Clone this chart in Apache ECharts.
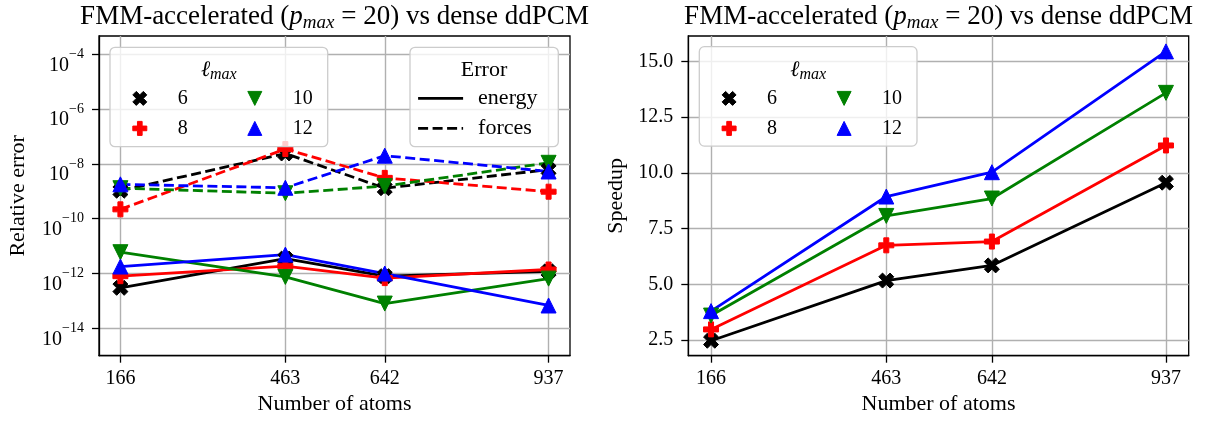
<!DOCTYPE html>
<html>
<head>
<meta charset="utf-8">
<script src="https://cdn.jsdelivr.net/npm/echarts@6/dist/echarts.min.js"></script>
<style>
  html, body { margin: 0; padding: 0; background: #fff; }
  #chart { width: 1208px; height: 423px; }
</style>
</head>
<body>
<div id="chart"></div>
<script>
// atom counts on the x axis
var atoms = [166, 463, 642, 937];
var lmaxNames = ['6', '8', '10', '12'];

// relative error of the energy, per l_max
var energy6 = [3.0e-13, 3.5e-12, 8.0e-13, 1.2e-12];
var energy8 = [8.0e-13, 1.85e-12, 6.8e-13, 1.4e-12];
var energy10 = [6.0e-12, 7.5e-13, 8.0e-14, 6.5e-13];
var energy12 = [1.8e-12, 4.9e-12, 1.0e-12, 6.8e-14];

// relative error of the forces, per l_max
var forces6 = [1.05e-9, 2.4e-8, 1.3e-9, 6.2e-9];
var forces8 = [2.2e-10, 3.5e-8, 3.1e-9, 9.7e-10];
var forces10 = [1.3e-9, 8.5e-10, 1.55e-9, 1.1e-8];
var forces12 = [1.8e-9, 1.35e-9, 2.0e-8, 5.3e-9];

// speedup, per l_max
var speedup6 = [2.47, 5.17, 5.85, 9.56];
var speedup8 = [2.98, 6.75, 6.92, 11.23];
var speedup10 = [3.6, 8.07, 8.85, 13.59];
var speedup12 = [3.8, 8.94, 10.03, 15.45];

// tick labels
var errorTicks = [-14, -12, -10, -8, -6, -4];   // exponents of 10
var speedupTicks = [2.5, 5, 7.5, 10, 12.5, 15];

var FONT = 'Liberation Serif';
var colors = ['#000000', '#ff0000', '#008000', '#0000ff'];
var X_PATH = 'path://M424,0L566,141L424,283L566,424L424,566L283,424L141,566L0,424L141,283L0,141L141,0L283,141Z';
var P_PATH = 'path://M2,0L4,0L4,2L6,2L6,4L4,4L4,6L2,6L2,4L0,4L0,2L2,2Z';
var DOWN_PATH = 'path://M0,0L2,0L1,2Z';
var UP_PATH = 'path://M1,0L2,2L0,2Z';
var symbols = [X_PATH, P_PATH, DOWN_PATH, UP_PATH];
var DASH = [10, 4.5];

var energy = [energy6, energy8, energy10, energy12];
var forces = [forces6, forces8, forces10, forces12];
var speedup = [speedup6, speedup8, speedup10, speedup12];

function pairs(vals, log) {
    return atoms.map(function (a, i) {
        return [a, log ? Math.log10(vals[i]) : vals[i]];
    });
}

function lineSeries(name, idx, data, axis, dashed) {
    return {
        name: name,
        type: 'line',
        xAxisIndex: axis,
        yAxisIndex: axis,
        data: data,
        symbol: symbols[idx],
        symbolSize: 15,
        showSymbol: true,
        animation: false,
        silent: true,
        lineStyle: { color: colors[idx], width: 2.8, type: dashed ? DASH : 'solid' },
        itemStyle: { color: colors[idx], borderColor: colors[idx], borderWidth: 1 }
    };
}

var series = [];
for (var i = 0; i < 4; i++) {
    series.push(lineSeries(lmaxNames[i], i, pairs(energy[i], true), 0, false));
}
for (var i = 0; i < 4; i++) {
    series.push(lineSeries(lmaxNames[i], i, pairs(forces[i], true), 0, true));
}
for (var i = 0; i < 4; i++) {
    series.push(lineSeries(lmaxNames[i], i, pairs(speedup[i], false), 1, false));
}
// dummy series for the "Error" legend
series.push({ name: 'energy', type: 'line', data: [], symbol: 'none',
    lineStyle: { color: '#000', width: 2.8, type: 'solid' }, itemStyle: { color: '#000' } });
series.push({ name: 'forces', type: 'line', data: [], symbol: 'none',
    lineStyle: { color: '#000', width: 2.8, type: DASH }, itemStyle: { color: '#000' } });

var nameStyle = { fontFamily: FONT, fontSize: 22, color: '#000' };

function xAxis(idx) {
    return {
        type: 'value',
        gridIndex: idx,
        min: 127.45,
        max: 975.55,
        name: 'Number of atoms',
        nameLocation: 'middle',
        nameGap: 26,
        nameTextStyle: nameStyle,
        axisLine: { show: true, lineStyle: { color: '#000', width: 1.3 } },
        axisTick: { show: true, length: 7, lineStyle: { color: '#000', width: 1.3 }, customValues: atoms },
        axisLabel: { margin: 13, fontFamily: FONT, fontSize: 20, color: '#000', customValues: atoms },
        splitLine: { show: true, lineStyle: { color: '#b0b0b0', width: 1.4 } }
    };
}

var titleRich = {
    n: { fontFamily: FONT, fontSize: 27, fontWeight: 'normal', color: '#000', lineHeight: 31 },
    i: { fontFamily: FONT, fontSize: 27, fontWeight: 'normal', fontStyle: 'italic', color: '#000', lineHeight: 31 },
    s: { fontFamily: FONT, fontSize: 19, fontWeight: 'normal', fontStyle: 'italic', color: '#000', verticalAlign: 'bottom', lineHeight: 19 }
};
var lmaxRich = {
    i: { fontFamily: FONT, fontSize: 22, fontStyle: 'italic', color: '#000', lineHeight: 26 },
    s: { fontFamily: FONT, fontSize: 16, fontStyle: 'italic', color: '#000', verticalAlign: 'bottom', lineHeight: 16 }
};
var titleText = '{n|FMM-accelerated (}{i|p}{s|max}{n| = 20) vs dense ddPCM}';

function legendCol(names, left, top) {
    return {
        data: names.map(function (n) {
            var k = lmaxNames.indexOf(n);
            return { name: n, icon: symbols[k], itemStyle: { color: colors[k], borderColor: colors[k], borderWidth: 1 } };
        }),
        orient: 'vertical',
        left: left,
        top: top,
        padding: 0,
        itemWidth: 66,
        itemHeight: 14,
        itemGap: 10,
        selectedMode: false,
        z: 20,
        textStyle: { fontFamily: FONT, fontSize: 20, color: '#000' }
    };
}

function box(x, y, w, h) {
    return {
        type: 'rect', z: 15, silent: true,
        shape: { x: x, y: y, width: w, height: h, r: 5 },
        style: { fill: 'rgba(255,255,255,0.8)', stroke: '#cccccc', lineWidth: 1.3 }
    };
}

function lmaxTitle(cx, cy) {
    return {
        type: 'text', z: 20, silent: true, x: cx, y: cy,
        style: {
            text: '{i|ℓ}{s|max}',
            align: 'center', verticalAlign: 'middle',
            rich: lmaxRich
        }
    };
}

var chart = echarts.init(document.getElementById('chart'));
var option = {
    backgroundColor: '#ffffff',
    animation: false,
    title: [
        { text: titleText, left: 329.5, top: -4, textAlign: 'center', textStyle: { fontWeight: 'normal', rich: titleRich } },
        { text: titleText, left: 933.5, top: -4, textAlign: 'center', textStyle: { fontWeight: 'normal', rich: titleRich } }
    ],
    grid: [
        { left: 99, right: 638, top: 36, bottom: 67.3, show: true, borderColor: '#000', borderWidth: 1.3, backgroundColor: 'transparent' },
        { left: 688.3, right: 19.3, top: 36, bottom: 67.3, show: true, borderColor: '#000', borderWidth: 1.3, backgroundColor: 'transparent' }
    ],
    xAxis: [xAxis(0), xAxis(1)],
    yAxis: [
        {
            type: 'value',
            gridIndex: 0,
            min: -15,
            max: -3.33,
            name: 'Relative error',
            nameLocation: 'middle',
            nameRotate: 90,
            nameGap: 70,
            nameTextStyle: nameStyle,
            axisLine: { show: true, lineStyle: { color: '#000', width: 1.3 } },
            axisTick: { show: true, length: 7, lineStyle: { color: '#000', width: 1.3 }, customValues: errorTicks },
            axisLabel: {
                margin: 15,
                padding: [14, 0, 0, 0],
                customValues: errorTicks,
                formatter: function (v) {
                    return '{b|10}{s|−' + Math.round(-v) + '}';
                },
                rich: {
                    b: { fontFamily: FONT, fontSize: 20, color: '#000', lineHeight: 28, verticalAlign: 'bottom' },
                    s: { fontFamily: FONT, fontSize: 14, color: '#000', lineHeight: 14, verticalAlign: 'top' }
                }
            },
            splitLine: { show: true, lineStyle: { color: '#b0b0b0', width: 1.4 } }
        },
        {
            type: 'value',
            gridIndex: 1,
            min: 1.8,
            max: 16.14,
            name: 'Speedup',
            nameLocation: 'middle',
            nameRotate: 90,
            nameGap: 61,
            nameTextStyle: nameStyle,
            axisLine: { show: true, lineStyle: { color: '#000', width: 1.3 } },
            axisTick: { show: true, length: 7, lineStyle: { color: '#000', width: 1.3 }, customValues: speedupTicks },
            axisLabel: {
                margin: 15, fontFamily: FONT, fontSize: 20, color: '#000',
                customValues: speedupTicks,
                formatter: function (v) { return v.toFixed(1); }
            },
            splitLine: { show: true, lineStyle: { color: '#b0b0b0', width: 1.4 } }
        }
    ],
    legend: [
        legendCol(['6', '8'], 132.3, 88.4),
        legendCol(['10', '12'], 247.3, 88.4),
        {
            data: ['energy', 'forces'],
            orient: 'vertical',
            left: 416.7,
            top: 87.4,
            padding: 0,
            itemWidth: 45,
            itemHeight: 14,
            itemGap: 8,
            selectedMode: false,
            z: 20,
            itemStyle: { opacity: 0 },
            lineStyle: { width: 2.8 },
            textStyle: { fontFamily: FONT, fontSize: 22, color: '#000', padding: [0, 0, 0, 10] }
        },
        legendCol(['6', '8'], 721.6, 88.4),
        legendCol(['10', '12'], 836.6, 88.4)
    ],
    graphic: [
        box(110, 47.3, 217.7, 99.4),
        box(410, 47.3, 148.3, 99.4),
        box(699.3, 46.7, 217.7, 99.4),
        lmaxTitle(218.8, 70),
        lmaxTitle(808.2, 70),
        {
            type: 'text', z: 20, silent: true, x: 484, y: 70,
            style: { text: 'Error', fontFamily: FONT, fontSize: 22, fill: '#000', align: 'center', verticalAlign: 'middle' }
        }
    ],
    series: series
};
chart.setOption(option);
window.addEventListener('resize', function () { chart.resize(); });
</script>
</body>
</html>
